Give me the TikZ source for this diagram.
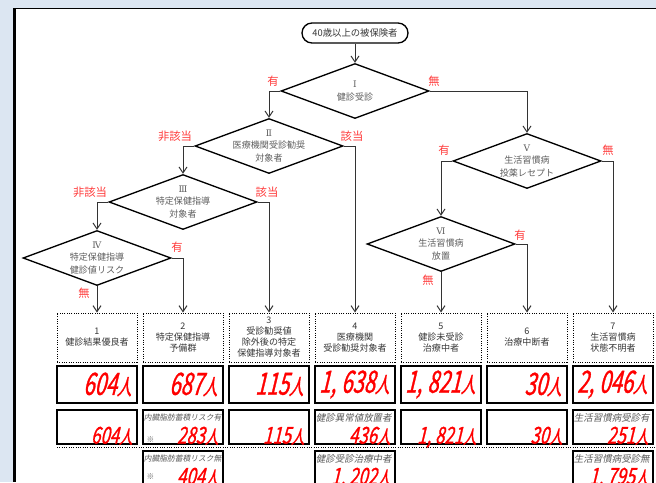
\documentclass[tikz,border=0pt]{standalone}
\usepackage{fontspec}
\setmainfont{Noto Sans CJK JP}
\newfontfamily\numfont[FakeBold=1,FakeSlant=0.24,FakeStretch=0.66]{Noto Sans CJK JP}
\newfontfamily\numfonts[FakeBold=1,FakeSlant=0.24,FakeStretch=0.72]{Noto Sans CJK JP}
\newfontfamily\subfont[FakeSlant=0.2]{Noto Sans CJK JP}
\newfontfamily\romfont{DejaVu Serif}
\usetikzlibrary{shapes.geometric,arrows.meta}
\definecolor{paneblue}{RGB}{220,230,242}
\definecolor{inkgray}{RGB}{55,55,55}
\definecolor{qgray}{RGB}{95,95,95}
\definecolor{subgray}{RGB}{90,90,90}
\definecolor{ansred}{RGB}{255,60,60}
\newcommand\tani{\fontsize{16.5}{16.5}\selectfont}
\newcommand\tanis{\fontsize{14}{14}\selectfont}

\begin{document}
\begin{tikzpicture}[x=0.75pt,y=-0.75pt,
  terminal/.style={draw,line width=1pt,rounded corners=7.5pt,minimum width=79.5pt,minimum height=15pt,inner sep=0pt,font=\fontsize{7}{7}\selectfont,text=inkgray},
  decision/.style={diamond,draw,line width=1pt,minimum width=111pt,minimum height=41.25pt,inner sep=0pt},
  qtext/.style={align=center,font=\fontsize{6.8}{9.4}\selectfont,text=qgray},
  ans/.style={text=ansred,font=\fontsize{8.5}{8.5}\selectfont,inner sep=0pt},
  arr/.style={draw=black!80,line width=0.75pt,-{Straight Barb[length=4.5pt,width=6pt]}},
  catbox/.style={draw,densely dotted,line width=0.75pt,minimum width=60pt,minimum height=36.75pt,inner sep=0pt,align=center,font=\fontsize{6.8}{8.25}\selectfont,text=inkgray},
  numbox/.style={draw,line width=1pt,minimum width=60pt,minimum height=27.75pt,inner sep=0pt},
  subbox/.style={draw,line width=1pt,minimum width=60pt,minimum height=25.5pt,inner sep=0pt},
  bigval/.style={font=\numfont\fontsize{23}{23}\selectfont,text=red,inner xsep=4.5pt,inner ysep=0pt},
  midval/.style={font=\numfonts\fontsize{17.5}{17.5}\selectfont,text=red,inner xsep=3.75pt,inner ysep=0pt,yshift=0.75pt},
  sublab/.style={font=\subfont\fontsize{7.1}{7.1}\selectfont,text=subgray,inner xsep=1pt,inner ysep=3pt},
  sublabsm/.style={sublab,font=\subfont\fontsize{5.8}{5.8}\selectfont},
  kome/.style={font=\fontsize{5.8}{5.8}\selectfont,text=subgray,inner xsep=3pt,inner ysep=0pt}]
\useasboundingbox (0,0) rectangle (656,482);
\clip (0,0) rectangle (656,482);

% panel
\fill[paneblue] (0,0) rectangle (656,482);
\fill[white] (15,8.5) rectangle (656,482);
\draw[line width=2pt] (14.7,8) -- (14.7,482);
\draw[line width=1pt] (14,8.7) -- (656,8.7);

% questions
\node[terminal] (entry) at (355,33) {40歳以上の被保険者};
\node[decision] (q1) at (355,91) {};
\node[decision] (q2) at (269,146) {};
\node[decision] (q3) at (183,202) {};
\node[decision] (q4) at (97,258) {};
\node[decision] (q5) at (527,161) {};
\node[decision] (q6) at (441,244) {};
\node[qtext] (q1t) at (q1) {{\romfont Ⅰ}\\健診受診};
\node[qtext] (q2t) at (q2) {{\romfont Ⅱ}\\医療機関受診勧奨\\対象者};
\node[qtext] (q3t) at (q3) {{\romfont Ⅲ}\\特定保健指導\\対象者};
\node[qtext] (q4t) at (q4) {{\romfont Ⅳ}\\特定保健指導\\健診値リスク};
\node[qtext] (q5t) at (q5) {{\romfont Ⅴ}\\生活習慣病\\投薬レセプト};
\node[qtext] (q6t) at (q6) {{\romfont Ⅵ}\\生活習慣病\\放置};

% groups
\node[catbox] (c1) at (97,337.5) {1\\健診結果優良者};
\node[catbox] (c2) at (183,337.5) {2\\特定保健指導\\予備群};
\node[catbox] (c3) at (269,337.5) {3\\受診勧奨値\\除外後の特定\\保健指導対象者};
\node[catbox] (c4) at (355,337.5) {4\\医療機関\\受診勧奨対象者};
\node[catbox] (c5) at (441,337.5) {5\\健診未受診\\治療中者};
\node[catbox] (c6) at (527,337.5) {6\\治療中断者};
\node[catbox] (c7) at (613,337.5) {7\\生活習慣病\\状態不明者};

% flow
\draw[arr] (entry.south) -- (q1.north);
\draw[arr] (q1.west) -| (q2.north);
\draw[arr] (q1.east) -| (q5.north);
\draw[arr] (q2.west) -| (q3.north);
\draw[arr] (q2.east) -| (c4.north);
\draw[arr] (q3.west) -| (q4.north);
\draw[arr] (q3.east) -| (c3.north);
\draw[arr] (q4.south) -- (c1.north);
\draw[arr] (q4.east) -| (c2.north);
\draw[arr] (q5.west) -| (q6.north);
\draw[arr] (q5.east) -| (c7.north);
\draw[arr] (q6.south) -- (c5.north);
\draw[arr] (q6.east) -| (c6.north);
\node[ans] (a1) at (273,81) {有};
\node[ans] (a2) at (434,81) {無};
\node[ans] (a3) at (175,136) {非該当};
\node[ans] (a4) at (352,136) {該当};
\node[ans] (a5) at (90,192) {非該当};
\node[ans] (a6) at (267,192) {該当};
\node[ans] (a7) at (177,247) {有};
\node[ans] (a8) at (84,293) {無};
\node[ans] (a9) at (444,150) {有};
\node[ans] (a10) at (608,150) {無};
\node[ans] (a11) at (520,235) {有};
\node[ans] (a12) at (428,280) {無};

% totals
\node[numbox] (n1) at (97,384.5) {};
\node[numbox] (n2) at (183,384.5) {};
\node[numbox] (n3) at (269,384.5) {};
\node[numbox] (n4) at (355,384.5) {};
\node[numbox] (n5) at (441,384.5) {};
\node[numbox] (n6) at (527,384.5) {};
\node[numbox] (n7) at (613,384.5) {};
\node[bigval,anchor=east] (v1) at (n1.east) {604{\tani 人}};
\node[bigval,anchor=east] (v2) at (n2.east) {687{\tani 人}};
\node[bigval,anchor=east] (v3) at (n3.east) {115{\tani 人}};
\node[bigval,anchor=east] (v4) at (n4.east) {1,\,638{\tani 人}};
\node[bigval,anchor=east] (v5) at (n5.east) {1,\,821{\tani 人}};
\node[bigval,anchor=east] (v6) at (n6.east) {30{\tani 人}};
\node[bigval,anchor=east] (v7) at (n7.east) {2,\,046{\tani 人}};

% breakdown
\node[subbox] (t1) at (97,427) {};
\node[subbox] (t2) at (183,427) {};
\node[subbox] (t3) at (269,427) {};
\node[subbox] (t4) at (355,427) {};
\node[subbox] (t5) at (441,427) {};
\node[subbox] (t6) at (527,427) {};
\node[subbox] (t7) at (613,427) {};
\node[sublabsm,anchor=north west] (s2) at (t2.north west) {内臓脂肪蓄積リスク有};
\node[sublab,anchor=north west] (s4) at (t4.north west) {健診異常値放置者};
\node[sublab,anchor=north west] (s7) at (t7.north west) {生活習慣病受診有};
\node[kome,anchor=west,yshift=-9.75pt] (k2) at (t2.west) {※};
\node[midval,anchor=base east] (m1) at (t1.south east) {604{\tanis 人}};
\node[midval,anchor=base east] (m2) at (t2.south east) {283{\tanis 人}};
\node[midval,anchor=base east] (m3) at (t3.south east) {115{\tanis 人}};
\node[midval,anchor=base east] (m4) at (t4.south east) {436{\tanis 人}};
\node[midval,anchor=base east] (m5) at (t5.south east) {1,\,821{\tanis 人}};
\node[midval,anchor=base east] (m6) at (t6.south east) {30{\tanis 人}};
\node[midval,anchor=base east] (m7) at (t7.south east) {251{\tanis 人}};
\draw[densely dotted,line width=0.75pt] (57,447.5) -- (656,447.5);
\node[subbox] (u2) at (183,468) {};
\node[subbox] (u4) at (355,468) {};
\node[subbox] (u7) at (613,468) {};
\node[sublabsm,anchor=north west] (r2) at (u2.north west) {内臓脂肪蓄積リスク無};
\node[sublab,anchor=north west] (r4) at (u4.north west) {健診受診治療中者};
\node[sublab,anchor=north west] (r7) at (u7.north west) {生活習慣病受診無};
\node[kome,anchor=west,yshift=-6.75pt] (k3) at (u2.west) {※};
\node[midval,anchor=base east] (w2) at (u2.south east) {404{\tanis 人}};
\node[midval,anchor=base east] (w4) at (u4.south east) {1,\,202{\tanis 人}};
\node[midval,anchor=base east] (w7) at (u7.south east) {1,\,795{\tanis 人}};
\end{tikzpicture}
\end{document}
